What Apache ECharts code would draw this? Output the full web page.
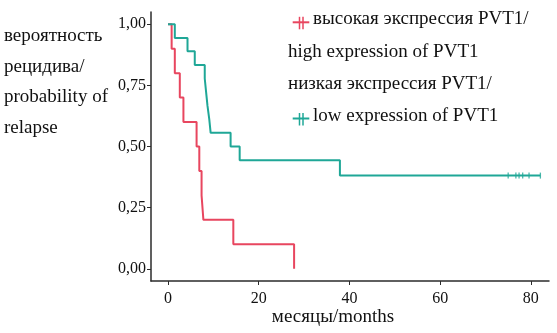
<!DOCTYPE html>
<html>
<head>
<meta charset="utf-8">
<script src="https://cdn.jsdelivr.net/npm/echarts@6.0.0/dist/echarts.min.js"></script>
<style>
  html, body { margin: 0; padding: 0; background: #ffffff; }
  #chart { width: 557px; height: 333px; }
</style>
</head>
<body>
<div id="chart"></div>
<script>
// Kaplan–Meier curves: relapse probability by PVT1 expression level
const highTimes = [0, 0.8, 1.5, 2.6, 3.4, 6.3, 6.9, 7.4, 7.8, 14.4, 27.8];
const highProb  = [1, 0.9, 0.8, 0.7, 0.6, 0.5, 0.4, 0.3, 0.2, 0.1, 0];

const lowTimes = [0, 1.5, 4.3, 5.9, 8.1, 8.4, 8.7, 9.1, 9.4, 13.8, 15.8, 37.9, 82.1];
const lowProb  = [1, 0.944, 0.889, 0.833, 0.778, 0.722, 0.667, 0.611, 0.556, 0.5, 0.444, 0.381, 0.381];

// censored observations on the low-expression curve
const lowCensorTimes = [75.0, 76.7, 77.4, 78.2, 79.6, 82.1];
const lowCensorProb  = [0.381, 0.381, 0.381, 0.381, 0.381, 0.381];

const xTicks = [0, 20, 40, 60, 80];
const yTicks = [0, 0.25, 0.5, 0.75, 1];

const yTitleLines = ['вероятность', 'рецидива/', 'probability of', 'relapse'];
const xTitle = 'месяцы/months';
const legendLines = [
  'высокая экспрессия PVT1/',
  'high expression of PVT1',
  'низкая экспрессия PVT1/',
  'low expression of PVT1'
];

const RED = '#E8465F';
const TEAL = '#1FA797';
const INK = '#111111';
const FONT = '"Liberation Serif", "DejaVu Serif", serif';

const zip = (xs, ys) => xs.map((x, i) => [x, ys[i]]);

const chart = echarts.init(document.getElementById('chart'), null, { renderer: 'canvas' });

// legend key: short line crossed by a double censor bar
function legendKey(cy, color) {
  return {
    type: 'group',
    children: [
      { type: 'line', shape: { x1: 292.7, y1: cy, x2: 309.3, y2: cy }, style: { stroke: color, lineWidth: 2 } },
      { type: 'line', shape: { x1: 299.5, y1: cy - 5.5, x2: 299.5, y2: cy + 7 }, style: { stroke: color, lineWidth: 1.5 } },
      { type: 'line', shape: { x1: 303, y1: cy - 5.5, x2: 303, y2: cy + 7 }, style: { stroke: color, lineWidth: 1.5 } }
    ]
  };
}

function txt(x, y, s, extra) {
  return Object.assign({
    type: 'text', x: x, y: y,
    style: { text: s, fill: INK, font: '19px ' + FONT, textAlign: 'left', textVerticalAlign: 'middle' }
  }, extra || {});
}

const legendX = [313, 288, 288, 313];
const legendY = [19, 52, 84, 116];
const yTitleY = [36.5, 67, 97.5, 128.5];

const graphics = [];
yTitleLines.forEach((s, i) => graphics.push(txt(4, yTitleY[i], s)));
legendLines.forEach((s, i) => graphics.push(txt(legendX[i], legendY[i], s)));
graphics.push(legendKey(22.3, RED));
graphics.push(legendKey(118.5, TEAL));
graphics.push({
  type: 'text', x: 333, y: 317.5,
  style: { text: xTitle, fill: INK, font: '19px ' + FONT, textAlign: 'center', textVerticalAlign: 'middle' }
});

chart.setOption({
  animation: false,
  backgroundColor: '#ffffff',
  grid: { left: 151, right: 8, top: 12, bottom: 52, containLabel: false },
  xAxis: {
    type: 'value',
    min: -3.75,
    max: 84,
    splitLine: { show: false },
    axisLine: { show: true, onZero: false, lineStyle: { color: '#2b2b2b', width: 1.5 } },
    axisTick: { show: true, length: 4, lineStyle: { color: '#2b2b2b', width: 1 }, customValues: xTicks },
    axisLabel: {
      customValues: xTicks,
      margin: 10,
      color: INK,
      fontFamily: FONT,
      fontSize: 16
    }
  },
  yAxis: {
    type: 'value',
    min: -0.05,
    max: 1.05,
    splitLine: { show: false },
    axisLine: { show: true, onZero: false, lineStyle: { color: '#2b2b2b', width: 1.5 } },
    axisTick: { show: true, length: 4, lineStyle: { color: '#2b2b2b', width: 1 }, customValues: yTicks },
    axisLabel: {
      customValues: yTicks,
      margin: 5,
      color: INK,
      fontFamily: FONT,
      fontSize: 16,
      formatter: v => v.toFixed(2).replace('.', ',')
    }
  },
  series: [
    {
      name: 'high',
      type: 'line',
      step: 'end',
      showSymbol: false,
      data: zip(highTimes, highProb),
      lineStyle: { color: RED, width: 2 },
      itemStyle: { color: RED }
    },
    {
      name: 'low',
      type: 'line',
      step: 'end',
      showSymbol: false,
      data: zip(lowTimes, lowProb),
      lineStyle: { color: TEAL, width: 2 },
      itemStyle: { color: TEAL }
    },
    {
      name: 'low-censored',
      type: 'scatter',
      symbol: 'rect',
      symbolSize: [1.3, 6],
      data: zip(lowCensorTimes, lowCensorProb),
      itemStyle: { color: TEAL }
    }
  ],
  graphic: graphics
});
</script>
</body>
</html>
